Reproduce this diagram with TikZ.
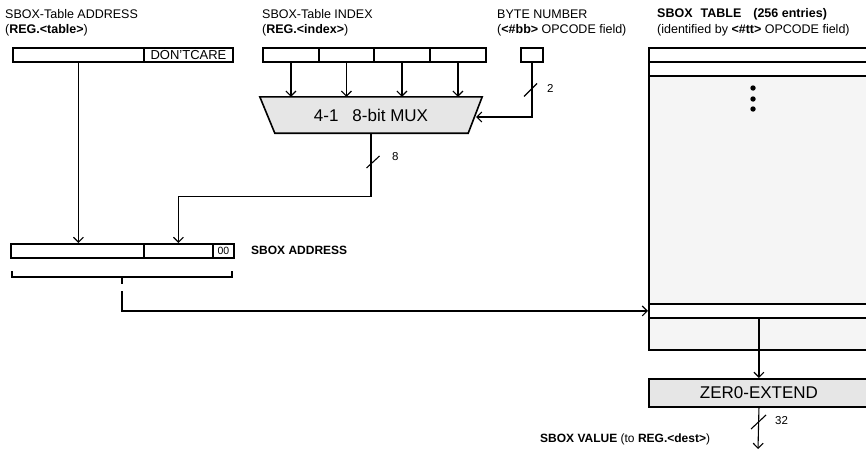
\documentclass[tikz,border=0pt]{standalone}
\usepackage{fontspec}
\setmainfont{Liberation Sans}
\usetikzlibrary{arrows.meta,backgrounds}
\definecolor{boxgray}{HTML}{E6E6E6}
\definecolor{tblgray}{HTML}{F5F5F5}
\begin{document}
\begin{tikzpicture}[x=1pt,y=-1pt,
  wire/.style={line width=1.1pt},
  arr/.style={wire,-{Straight Barb[length=5pt,width=10pt,line width=1.1pt]}},
  cell/.style={draw,line width=1.9pt,inner sep=0pt,anchor=north west,minimum height=14pt},
  hdr/.style={anchor=base west,inner sep=0pt,font=\fontsize{12.5}{14}\selectfont},
  lbl/.style={anchor=west,inner sep=0pt,font=\fontsize{11.5}{13}\selectfont},
  big/.style={font=\fontsize{17}{19}\selectfont}]
\useasboundingbox (0,0) rectangle (866,450);
% headers
\node[hdr] (h1a) at (5,18) {SBOX-Table ADDRESS};
\node[hdr] (h1b) at (5,33) {(\textbf{REG.<table>})};
\node[hdr] (h2a) at (262,18) {SBOX-Table INDEX};
\node[hdr] (h2b) at (262,33) {(\textbf{REG.<index>})};
\node[hdr] (h3a) at (497,18.5) {BYTE NUMBER};
\node[hdr] (h3b) at (497,33.5) {(\textbf{<\#bb>} OPCODE field)};
\node[hdr] (h4a) at (657,17.5) {\textbf{SBOX\hspace{8pt}TABLE\hspace{12pt}(256 entries)}};
\node[hdr] (h4b) at (657,33) {(identified by \textbf{<\#tt>} OPCODE field)};
% table address register
\node[cell,minimum width=131pt] (tA) at (12,47) {};
\node[cell,minimum width=89pt,font=\fontsize{13}{14}\selectfont] (tB) at (143,47) {DON'TCARE};
% index register
\node[cell,minimum width=56pt] (i1) at (262,47) {};
\node[cell,minimum width=55pt] (i2) at (318,47) {};
\node[cell,minimum width=56pt] (i3) at (373,47) {};
\node[cell,minimum width=56pt] (i4) at (429,47) {};
% byte number
\node[cell,minimum width=22pt] (bb) at (520,47) {};
% mux
\node[big,minimum width=222pt,minimum height=36pt,inner sep=0pt] (mux) at (371,115) {4-1\hspace{14pt}8-bit MUX};
\begin{scope}[on background layer]
\filldraw[fill=boxgray,line width=1.6pt,line join=miter] (mux.north west) -- (mux.north east) -- ([xshift=-14pt]mux.south east) -- ([xshift=15pt]mux.south west) -- cycle;
\end{scope}
\foreach \c in {i1,i2,i3,i4}{\draw[arr] (\c.south) -- (\c.south |- mux.north);}
\coordinate (muxin) at (476,117);
\draw[arr] (bb.south) |- (muxin);
\draw[wire] (524,96.5) -- (537,83.5);
\node[lbl] (l2) at (547,88) {2};
% address register
\node[cell,minimum width=133pt] (aA) at (10,243) {};
\node[cell,minimum width=69pt] (aB) at (143,243) {};
\node[cell,minimum width=21pt,font=\fontsize{10.5}{12}\selectfont] (aC) at (212,243) {00};
% mux output
\draw[arr] (mux.south) -- ++(0,63) -| (aB.north);
\draw[wire] (366.5,168) -- (379.5,156);
\node[lbl] (l8) at (392,157) {8};
\draw[arr] (tA.south) -- (tA.south |- aA.north);
\node[lbl,font=\bfseries\fontsize{12}{14}\selectfont] (sa) at (251,250) {SBOX ADDRESS};
% brace
\draw[wire] (12,271) -- (12,277) -- (232,277) -- (232,271);
\draw[wire] (122,277) -- (122,284);
\coordinate (bo) at (122,291);
% sbox table
\node[cell,minimum width=220pt,fill=white] (r1) at (648,47) {};
\node[cell,minimum width=220pt,fill=white] (r2) at (648,61) {};
\node[cell,minimum width=220pt,minimum height=228pt,fill=tblgray] (body) at (648,75) {};
\node[cell,minimum width=220pt,fill=white] (rsel) at (648,303) {};
\node[cell,minimum width=220pt,minimum height=32pt,fill=tblgray] (rbot) at (648,317) {};
\foreach \y in {88,99,109}{\fill (753,\y) circle[radius=2.7pt];}
\draw[arr] (bo) |- (rsel.west);
% zero extend
\node[cell,big,minimum width=220pt,minimum height=28pt,fill=boxgray] (ze) at (648,378) {ZER0-EXTEND};
\draw[arr] (rsel.south) -- (ze.north);
\coordinate (out) at (758,449);
\draw[arr] (ze.south) -- (out);
\draw[wire] (751,429) -- (766,415);
\node[lbl] (l32) at (775,421) {32};
\node[anchor=base west,inner sep=0pt,font=\fontsize{12}{14}\selectfont] (sv) at (540,442) {\textbf{SBOX VALUE} (to \textbf{REG.<dest>})};
\end{tikzpicture}
\end{document}
